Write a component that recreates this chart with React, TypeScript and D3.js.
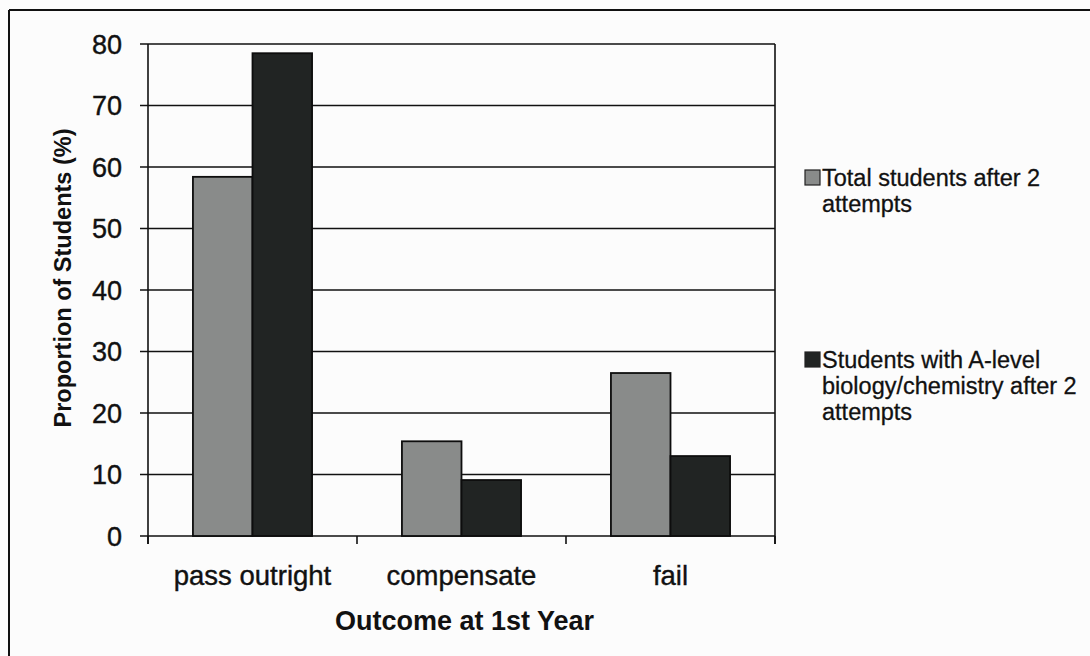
import React from "react";
import * as d3 from "d3";

const categories = ["pass outright", "compensate", "fail"];
const seriesNames = [
  "Total students after 2 attempts",
  "Students with A-level biology/chemistry after 2 attempts",
];
const totalStudents = [58.4, 15.4, 26.5];
const aLevelStudents = [78.5, 9.1, 13.0];
const yTicks = [0, 10, 20, 30, 40, 50, 60, 70, 80];
const legendLines = [
  ["Total students after 2", "attempts"],
  ["Students with A-level", "biology/chemistry after 2", "attempts"],
];

const W = 1090;
const H = 656;
const plot = { left: 148, right: 775, top: 44, bottom: 536 };
const colors = ["#898b8a", "#212423"];
const font = "'Liberation Sans', Arial, sans-serif";
const ink = "#111";

export default function App() {
  const x = d3
    .scaleBand<string>()
    .domain(categories)
    .range([plot.left, plot.right])
    .paddingInner(0.43)
    .paddingOuter(0.215);
  const x1 = d3
    .scaleBand<number>()
    .domain([0, 1])
    .range([0, x.bandwidth()]);
  const y = d3.scaleLinear().domain([0, 80]).range([plot.bottom, plot.top]);
  const series = [totalStudents, aLevelStudents];
  const step = x.step();
  const catTicks = d3.range(categories.length + 1).map((i) => plot.left + i * step);

  return (
    <div style={{ position: "absolute", left: 0, top: 0 }}>
      <svg width={W} height={H} style={{ display: "block", background: "#fcfcfc" }}>
        {/* outer frame */}
        <line x1={9} y1={10} x2={W} y2={10} stroke={ink} strokeWidth={2} />
        <line x1={9} y1={10} x2={9} y2={H} stroke={ink} strokeWidth={2} />

        {/* gridlines */}
        {yTicks.map((t) => (
          <line
            key={"g" + t}
            x1={plot.left - 8}
            x2={plot.right}
            y1={y(t)}
            y2={y(t)}
            stroke={ink}
            strokeWidth={1.6}
          />
        ))}
        {/* plot right edge and y axis */}
        <line x1={plot.right} x2={plot.right} y1={plot.top} y2={plot.bottom + 8} stroke={ink} strokeWidth={1.6} />
        <line x1={plot.left} x2={plot.left} y1={plot.top} y2={plot.bottom + 8} stroke={ink} strokeWidth={1.6} />
        {catTicks.map((cx, i) => (
          <line key={"ct" + i} x1={cx} x2={cx} y1={plot.bottom} y2={plot.bottom + 8} stroke={ink} strokeWidth={1.6} />
        ))}

        {/* bars */}
        {categories.map((c, ci) =>
          series.map((s, si) => (
            <rect
              key={c + si}
              x={(x(c) as number) + (x1(si) as number)}
              y={y(s[ci])}
              width={x1.bandwidth()}
              height={y(0) - y(s[ci])}
              fill={colors[si]}
              stroke="#0d0d0d"
              strokeWidth={1.8}
            />
          ))
        )}

        {/* y tick labels */}
        {yTicks.map((t) => (
          <text
            key={"yl" + t}
            x={122}
            y={y(t)}
            dy="0.36em"
            textAnchor="end"
            fontFamily={font}
            fontSize={27}
            fill={ink}
            stroke={ink}
            strokeWidth={0.4}
          >
            {t}
          </text>
        ))}

        {/* x category labels */}
        {categories.map((c) => (
          <text
            key={"xl" + c}
            x={(x(c) as number) + x.bandwidth() / 2}
            y={585}
            textAnchor="middle"
            fontFamily={font}
            fontSize={27.5}
            fill={ink}
            stroke={ink}
            strokeWidth={0.4}
          >
            {c}
          </text>
        ))}

        {/* axis titles */}
        <text
          x={(plot.left + plot.right) / 2 + 3}
          y={630}
          textAnchor="middle"
          fontFamily={font}
          fontSize={27}
          fontWeight="bold"
          fill={ink}
        >
          Outcome at 1st Year
        </text>
        <text
          transform={`translate(71,278) rotate(-90)`}
          textAnchor="middle"
          fontFamily={font}
          fontSize={23.5}
          fontWeight="bold"
          fill={ink}
        >
          Proportion of Students (%)
        </text>

        {/* legend */}
        {seriesNames.map((name, i) => {
          const top = i === 0 ? 170 : 352;
          return (
            <g key={name}>
              <rect x={805} y={top} width={15} height={15} fill={colors[i]} stroke="#222" strokeWidth={1.2} />
              {legendLines[i].map((ln, li) => (
                <text
                  key={ln}
                  x={822}
                  y={top + 16 + li * 26}
                  fontFamily={font}
                  fontSize={23.5}
                  fill={ink}
                  stroke={ink}
                  strokeWidth={0.3}
                >
                  {ln}
                </text>
              ))}
            </g>
          );
        })}
      </svg>
    </div>
  );
}
